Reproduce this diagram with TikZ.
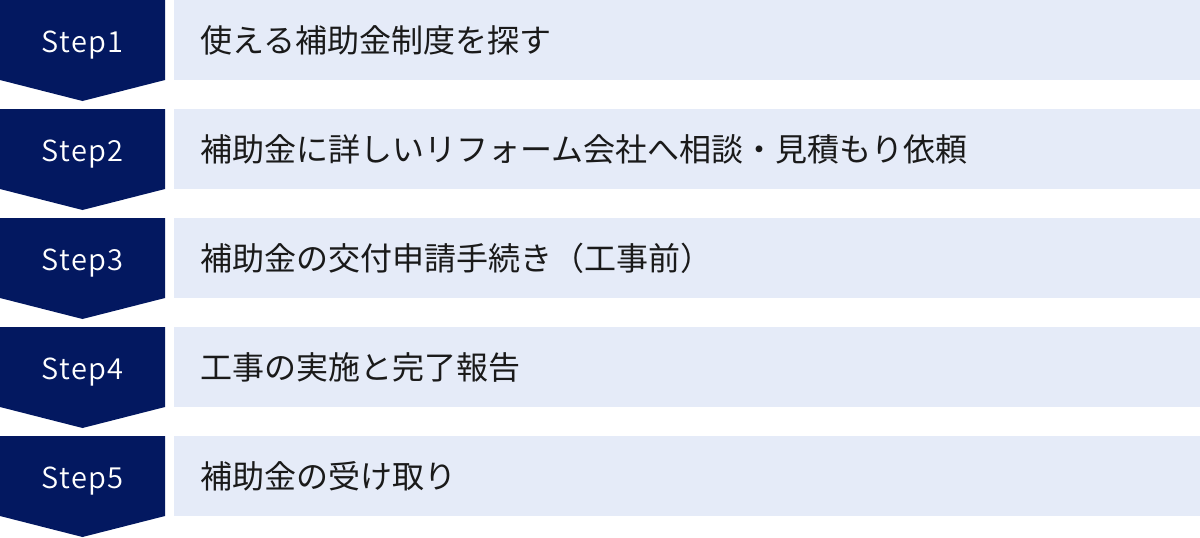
\documentclass[tikz,border=0pt]{standalone}
\usepackage{fontspec}
\newfontfamily\jp{Noto Sans CJK JP}
\newfontfamily\jplight{Noto Sans CJK JP DemiLight}[LetterSpace=5]
\definecolor{navy}{RGB}{3,24,96}
\definecolor{pale}{RGB}{229,235,248}
\definecolor{ink}{RGB}{26,26,26}
\begin{document}
\begin{tikzpicture}[x=1pt,y=-1pt,
  stepshape/.style={fill=navy,draw=none},
  bar/.style={fill=pale,draw=none},
  steplabel/.style={text=white,font=\jplight\fontsize{29}{34}\selectfont,inner sep=0pt,anchor=base},
  barlabel/.style={text=ink,font=\jp\fontsize{32}{36}\selectfont,inner sep=0pt,anchor=west}]
\useasboundingbox (0,0) rectangle (1200,538);
\foreach \i/\t in {1/使える補助金制度を探す,
                   2/補助金に詳しいリフォーム会社へ相談・見積もり依頼,
                   3/補助金の交付申請手続き（工事前）,
                   4/工事の実施と完了報告,
                   5/補助金の受け取り}{
  \pgfmathsetmacro{\yy}{(\i-1)*109}
  \begin{scope}[yshift=-\yy pt]
    \fill[stepshape] (0,0) -- (165,0) -- (165,80) -- (82.5,101) -- (0,80) -- cycle;
    \fill[bar] (174,0) rectangle (1200,80);
    \node[steplabel] (s\i) at (82.5,52.5) {Step\i};
    \node[barlabel] (t\i) at (200,40) {\t};
  \end{scope}
}
\end{tikzpicture}
\end{document}
